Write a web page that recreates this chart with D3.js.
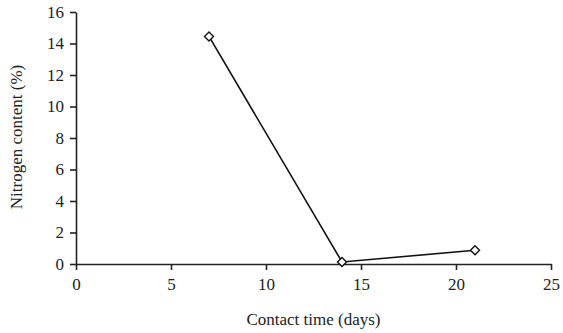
<!DOCTYPE html>
<html>
<head>
<meta charset="utf-8">
<script src="https://cdn.jsdelivr.net/npm/d3@7"></script>
<style>
  body { margin: 0; background: #fff; }
  text { font-family: "Liberation Serif", "DejaVu Serif", serif; fill: #222; }
</style>
</head>
<body>
<script>
// data
const days = [7, 14, 21];
const nitrogen = [14.45, 0.13, 0.87];
const xTicks = [0, 5, 10, 15, 20, 25];
const yTicks = [0, 2, 4, 6, 8, 10, 12, 14, 16];

const width = 563, height = 333;
const margin = {left: 76, right: 12, top: 12, bottom: 69};
const fs = "17px";

const svg = d3.select("body").append("svg")
  .attr("width", width)
  .attr("height", height);

const x = d3.scaleLinear().domain([0, 25]).range([margin.left, width - margin.right]);
const y = d3.scaleLinear().domain([0, 16]).range([height - margin.bottom, margin.top]);

// x axis
svg.append("g")
  .attr("transform", "translate(0," + y(0) + ")")
  .call(d3.axisBottom(x).tickValues(xTicks).tickSize(6).tickPadding(8).tickSizeOuter(0));
// y axis
svg.append("g")
  .attr("transform", "translate(" + x(0) + ",0)")
  .call(d3.axisLeft(y).tickValues(yTicks).tickSize(6).tickPadding(6).tickSizeOuter(0));

svg.selectAll(".domain, .tick line")
  .attr("stroke", "#222")
  .attr("stroke-width", 1.6);
svg.selectAll(".tick text")
  .style("font-size", fs)
  .style("font-family", "'Liberation Serif', serif")
  .attr("fill", "#222");

// axis titles
svg.append("text")
  .attr("x", (x(0) + x(25)) / 2)
  .attr("y", 325)
  .attr("text-anchor", "middle")
  .style("font-size", fs)
  .text("Contact time (days)");

svg.append("text")
  .attr("transform", "translate(22," + (y(8) - 1) + ") rotate(-90)")
  .attr("text-anchor", "middle")
  .style("font-size", fs)
  .text("Nitrogen content (%)");

// line
const pts = days.map((d, i) => [d, nitrogen[i]]);
svg.append("path")
  .datum(pts)
  .attr("fill", "none")
  .attr("stroke", "#111")
  .attr("stroke-width", 1.6)
  .attr("d", d3.line().x(d => x(d[0])).y(d => y(d[1])));

// diamond markers
svg.selectAll(".pt")
  .data(pts)
  .enter().append("path")
  .attr("class", "pt")
  .attr("transform", d => "translate(" + x(d[0]) + "," + y(d[1]) + ")")
  .attr("d", "M0,-4.5L4.5,0L0,4.5L-4.5,0Z")
  .attr("fill", "#fff")
  .attr("stroke", "#111")
  .attr("stroke-width", 1.4);
</script>
</body>
</html>
